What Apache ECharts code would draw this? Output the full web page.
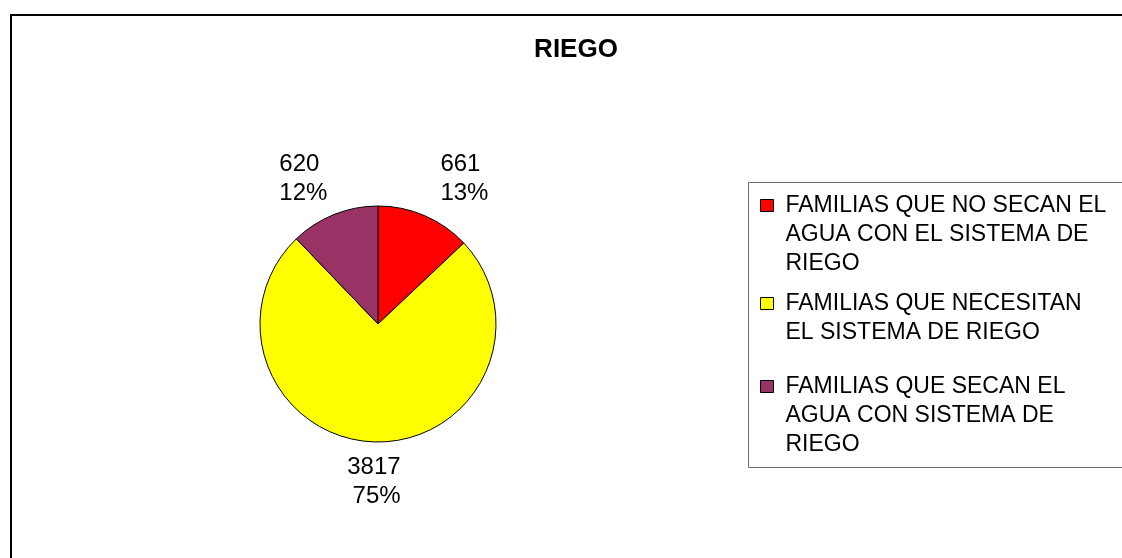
<!DOCTYPE html>
<html>
<head>
<meta charset="utf-8">
<script src="https://cdn.jsdelivr.net/npm/echarts@6/dist/echarts.min.js"></script>
<style>
html,body{margin:0;padding:0;background:#fff;}
#chart{width:1122px;height:558px;}
</style>
</head>
<body>
<div id="chart"></div>
<script>
const titleText = 'RIEGO';
const categories = [
  'FAMILIAS QUE NO SECAN EL AGUA CON EL SISTEMA DE RIEGO',
  'FAMILIAS QUE NECESITAN EL SISTEMA DE RIEGO',
  'FAMILIAS QUE SECAN EL AGUA CON SISTEMA DE RIEGO'
];
const legendLines = [
  ['FAMILIAS QUE NO SECAN EL', 'AGUA CON EL SISTEMA DE', 'RIEGO'],
  ['FAMILIAS QUE NECESITAN', 'EL SISTEMA DE RIEGO'],
  ['FAMILIAS QUE SECAN EL', 'AGUA CON SISTEMA DE', 'RIEGO']
];
const values = [661, 3817, 620];
const colors = ['#FF0000', '#FFFF00', '#993366'];

const FONT = '"Liberation Sans", Arial, sans-serif';
const legendTops = [133, 260, 314];

function legendText(name) {
  const i = categories.indexOf(name);
  const lines = legendLines[i];
  return '\n'.repeat(lines.length - 1) + lines.join('\n');
}

const legends = categories.map((name, i) => ({
  data: [name],
  orient: 'vertical',
  left: 760,
  top: legendTops[i],
  padding: 0,
  itemWidth: 13,
  itemHeight: 12,
  selectedMode: false,
  icon: 'rect',
  formatter: legendText,
  itemStyle: { borderColor: '#000', borderWidth: 1 },
  textStyle: {
    fontFamily: FONT, fontSize: 23, lineHeight: 29, color: '#000',
    padding: [0, 0, 0, 7]
  }
}));

const chart = echarts.init(document.getElementById('chart'), null, { renderer: 'canvas' });
chart.setOption({
  backgroundColor: '#fff',
  animation: false,
  title: {
    text: titleText,
    left: 576,
    top: 37,
    padding: 0,
    textAlign: 'center',
    textStyle: { fontFamily: FONT, fontSize: 26, fontWeight: 'bold', color: '#000', lineHeight: 26 }
  },
  graphic: [
    { type: 'rect', z: -10, shape: { x: 11, y: 15, width: 1140, height: 580 },
      style: { fill: 'none', stroke: '#000', lineWidth: 2 } },
    { type: 'rect', z: -10, shape: { x: 748.5, y: 182.5, width: 400, height: 285 },
      style: { fill: 'none', stroke: '#6e6e6e', lineWidth: 1 } }
  ],
  legend: legends,
  series: [{
    type: 'pie',
    center: [378, 324],
    radius: 118,
    startAngle: 90,
    clockwise: true,
    percentPrecision: 0,
    avoidLabelOverlap: false,
    itemStyle: { borderColor: '#000', borderWidth: 1 },
    label: {
      show: true,
      position: 'outside',
      formatter: '{c}\n{d}%',
      fontFamily: FONT,
      fontSize: 24,
      lineHeight: 29,
      color: '#000'
    },
    labelLine: { show: false, length: 42, length2: 0 },
    labelLayout: function (p) {
      if (p.dataIndex === 0) return { dx: -6, dy: 2 };
      if (p.dataIndex === 1) return { dx: p.labelRect.width / 2 + 5, dy: -2 };
      if (p.dataIndex === 2) return { align: 'left', dx: -p.labelRect.width + 14, dy: 3 };
      return {};
    },
    emphasis: { disabled: true },
    data: categories.map((name, i) => ({
      name: name, value: values[i], itemStyle: { color: colors[i] }
    }))
  }]
});
</script>
</body>
</html>
